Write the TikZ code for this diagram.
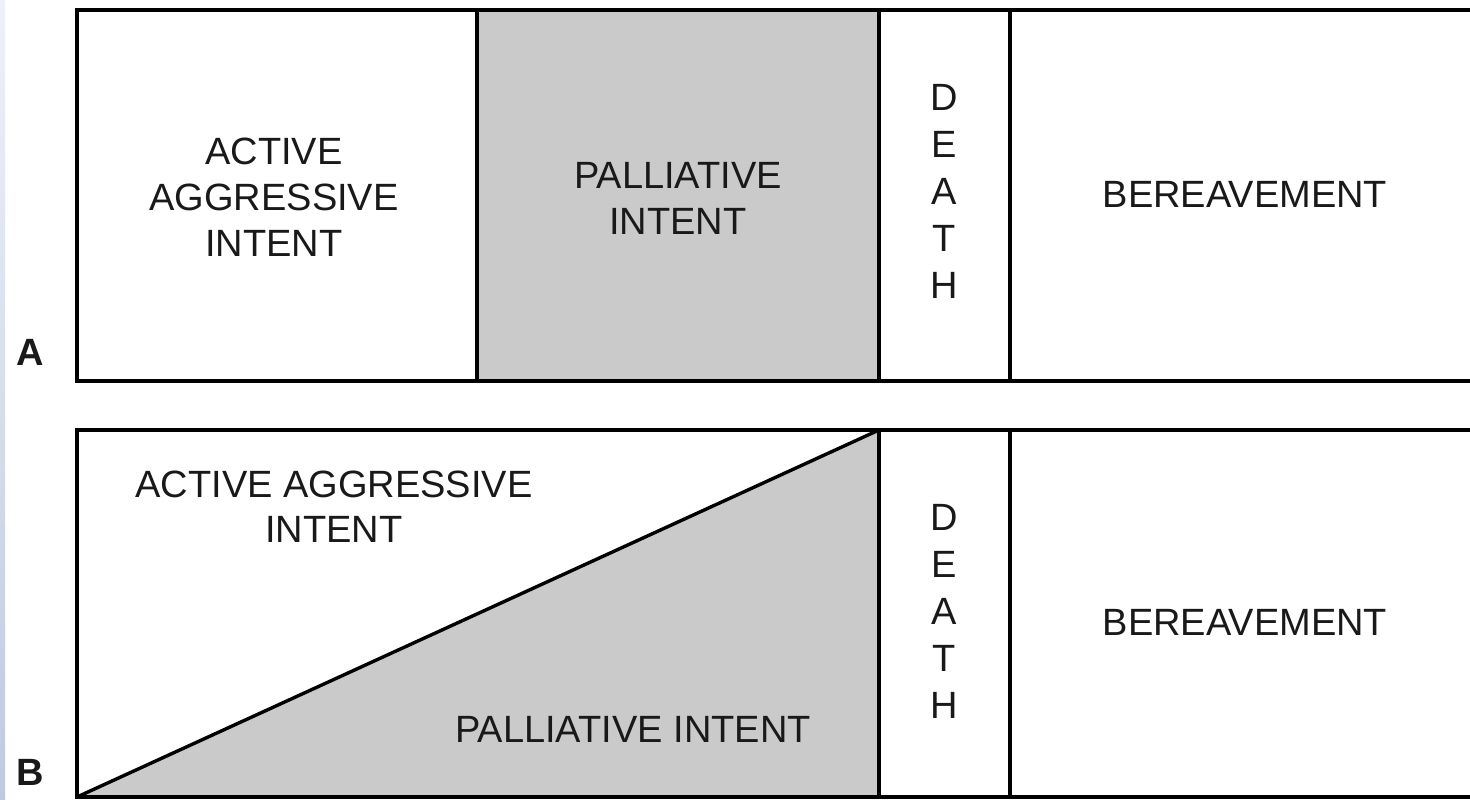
\documentclass[tikz,border=0pt]{standalone}
\usepackage{fontspec}
\setmainfont{Liberation Sans}
\begin{document}
\begin{tikzpicture}[x=1pt,y=-1pt,
  frame/.style={draw=black,line width=3.4pt,line join=miter},
  lab/.style={font=\fontsize{38}{46}\selectfont,align=center,inner sep=0pt,text=black!90},
  deathlab/.style={font=\fontsize{38}{47}\selectfont,align=center,inner sep=0pt,text=black!90},
  panel/.style={font=\fontsize{38}{46}\selectfont\bfseries,inner sep=0pt,anchor=base,text=black!90}]
\definecolor{boxgray}{RGB}{202,202,202}
\definecolor{striptop}{RGB}{238,241,248}
\definecolor{stripbot}{RGB}{190,202,225}
\useasboundingbox (0,0) rectangle (1470,800);
\clip (0,0) rectangle (1470,800);
\fill[white] (0,0) rectangle (1470,800);
\shade[top color=striptop,bottom color=stripbot] (0,0) rectangle (5,800);
% panel A
\fill[boxgray] (477,10) rectangle (879,381);
\draw[frame] (1480,10) -- (77,10) -- (77,381) -- (1480,381);
\draw[frame] (477,10) -- (477,381);
\draw[frame] (879,10) -- (879,381);
\draw[frame] (1010,10) -- (1010,381);
\node[lab] (aact) at (274,197.5) {ACTIVE\\AGGRESSIVE\\INTENT};
\node[lab] (apal) at (678,198) {PALLIATIVE\\INTENT};
\node[deathlab] (adeath) at (944.5,191.5) {D\\E\\A\\T\\H};
\node[lab,anchor=base] (abere) at (1245,207) {BEREAVEMENT};
\node[panel] (pa) at (30,365) {A};
% panel B
\coordinate (bl) at (77,797);
\coordinate (tr) at (879,430);
\fill[boxgray] (bl) -- (tr) -- (879,797) -- cycle;
\draw[frame] (1480,430) -- (77,430) -- (77,797) -- (1480,797);
\draw[frame] (bl) -- (tr);
\draw[frame] (879,430) -- (879,797);
\draw[frame] (1010,430) -- (1010,797);
\node[lab] (bact) at (334,507) {ACTIVE AGGRESSIVE\\[-1pt]INTENT};
\node[lab] (bpal) at (633,729) {PALLIATIVE INTENT};
\node[deathlab] (bdeath) at (944.5,611.5) {D\\E\\A\\T\\H};
\node[lab,anchor=base] (bbere) at (1245,635) {BEREAVEMENT};
\node[panel] (pb) at (30.5,785) {B};
\end{tikzpicture}
\end{document}
